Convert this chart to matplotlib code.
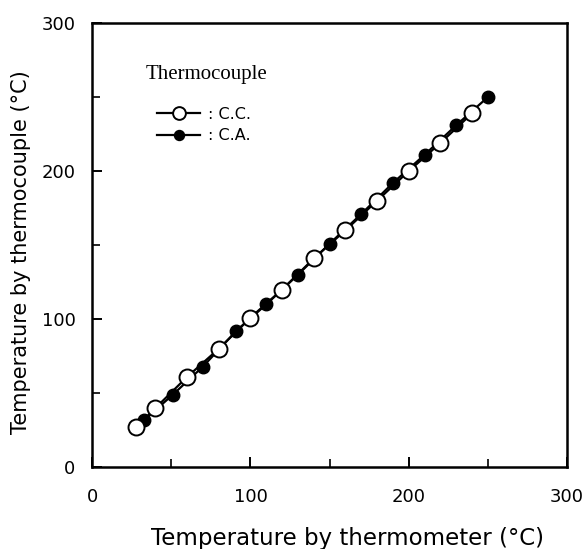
import numpy as np
import matplotlib
matplotlib.use("Agg")
import matplotlib.pyplot as plt
from matplotlib.ticker import MultipleLocator

# Readings (thermometer vs thermocouple, degC)
cc_x = [28, 40, 60, 80, 100, 120, 140, 160, 180, 200, 220, 240]
cc_y = [27, 40, 61, 80, 101, 120, 141, 160, 180, 200, 219, 239]
ca_x = [33, 51, 70, 91, 110, 130, 150, 170, 190, 210, 230, 250]
ca_y = [32, 49, 68, 92, 110, 130, 151, 171, 192, 211, 231, 250]

plt.rcParams['font.family'] = ['DejaVu Sans']

fig = plt.figure(figsize=(5.87, 5.49), dpi=100)
ax = fig.add_axes([0.157, 0.149, 0.809, 0.809])

ax.plot(ca_x, ca_y, color='black', linewidth=1.6, marker='o', markersize=9,
        markerfacecolor='black', markeredgecolor='black', label=': C.A.', zorder=2)
ax.plot(cc_x, cc_y, color='black', linewidth=1.6, marker='o', markersize=11.5,
        markerfacecolor='white', markeredgecolor='black', markeredgewidth=1.4,
        label=': C.C.', zorder=3)

ax.set_xlim(0, 300)
ax.set_ylim(0, 300)
ax.xaxis.set_major_locator(MultipleLocator(100))
ax.yaxis.set_major_locator(MultipleLocator(100))
ax.xaxis.set_minor_locator(MultipleLocator(50))
ax.yaxis.set_minor_locator(MultipleLocator(50))
ax.tick_params(which='major', direction='in', length=7, width=1.4, labelsize=13)
ax.tick_params(which='minor', direction='in', length=6, width=1.2)
ax.tick_params(axis='x', which='major', pad=15)
ax.tick_params(axis='y', which='major', pad=12)
for s in ax.spines.values():
    s.set_linewidth(1.8)

ax.set_xlabel('Temperature by thermometer (°C)', fontsize=16.5)
ax.set_ylabel('Temperature by thermocouple (°C)', fontsize=15)
ax.xaxis.set_label_coords(0.537, -0.135)
ax.yaxis.set_label_coords(-0.128, 0.484)

# legend title drawn separately so the handles can sit indented
ax.text(0.112, 0.885, 'Thermocouple', transform=ax.transAxes, va='center',
        ha='left', family='Liberation Serif', fontsize=15)
handles, labels = ax.get_legend_handles_labels()
ax.legend(handles[::-1], labels[::-1], loc='upper left',
          bbox_to_anchor=(0.137, 0.811), frameon=False, borderpad=0,
          borderaxespad=0, fontsize=11.5, handlelength=2.7,
          handletextpad=0.5, labelspacing=0.4, markerscale=0.8)

fig.savefig('out.png', dpi=100)
